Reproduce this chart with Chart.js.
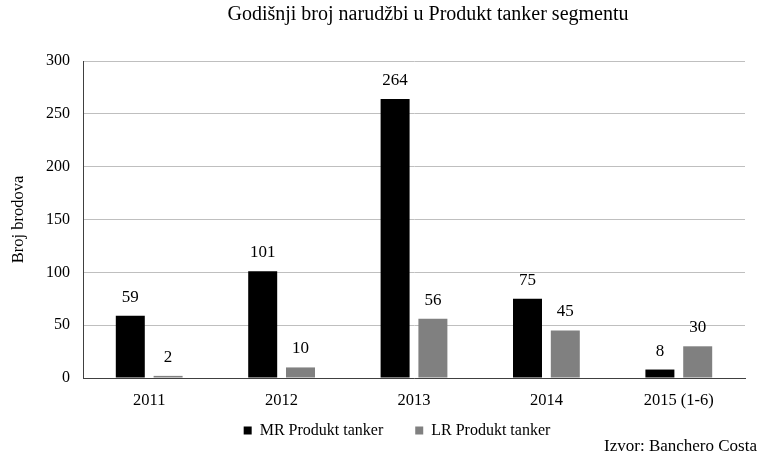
<!DOCTYPE html>
<html>
<head>
<meta charset="utf-8">
<script src="https://cdn.jsdelivr.net/npm/chart.js@4.4.1/dist/chart.umd.min.js"></script>
<style>
  html, body { margin: 0; padding: 0; background: #fff; }
  #wrap { width: 764px; height: 457px; }
</style>
</head>
<body>
<div id="wrap"><canvas id="ordersChart" width="764" height="457"></canvas></div>
<script>
// Yearly orders in the product tanker segment
const years = ['2011', '2012', '2013', '2014', '2015 (1-6)'];
const mrOrders = [59, 101, 264, 75, 8];
const lrOrders = [2, 10, 56, 45, 30];
const yTicks = [0, 50, 100, 150, 200, 250, 300];

const SERIF = '"Liberation Serif", "Times New Roman", serif';

// Re-centre a layout box (title / legend) horizontally
function centerBox(box, cx) {
    if (!box) return;
    const w = box.right - box.left;
    box.left = cx - w / 2;
    box.right = cx + w / 2;
}

// Value labels above each bar
const barLabels = {
    id: 'barLabels',
    afterDatasetsDraw(chart) {
        const ctx = chart.ctx;
        ctx.save();
        ctx.font = '17px ' + SERIF;
        ctx.fillStyle = '#000';
        ctx.textAlign = 'center';
        ctx.textBaseline = 'middle';
        chart.data.datasets.forEach((ds, i) => {
            chart.getDatasetMeta(i).data.forEach((bar, j) => {
                ctx.fillText(String(ds.data[j]), bar.x, bar.y - 18.5);
            });
        });
        ctx.restore();
    }
};

// Title and legend sit off-centre in the original; source note bottom right
const layoutTweaks = {
    id: 'layoutTweaks',
    afterLayout(chart) {
        centerBox(chart.titleBlock, 428);
        const lg = chart.legend;
        if (lg) {
            centerBox(lg, 397);
            // legend row centred at y ~430 (top + padding + half item height)
            lg.top = 430.5 - lg.options.labels.padding - 8;
            lg.bottom = lg.top + lg.height;
        }
    },
    afterDraw(chart) {
        const ctx = chart.ctx;
        ctx.save();
        ctx.font = '17px ' + SERIF;
        ctx.fillStyle = '#000';
        ctx.textAlign = 'right';
        ctx.textBaseline = 'middle';
        ctx.fillText('Izvor: Banchero Costa', 757, 447);
        ctx.restore();
    }
};

new Chart(document.getElementById('ordersChart'), {
    type: 'bar',
    data: {
        labels: years,
        datasets: [
            {
                label: 'MR Produkt tanker',
                data: mrOrders,
                backgroundColor: '#000000',
                borderWidth: 0,
                categoryPercentage: 0.571,
                barPercentage: 0.767
            },
            {
                label: 'LR Produkt tanker',
                data: lrOrders,
                backgroundColor: '#808080',
                borderWidth: 0,
                categoryPercentage: 0.571,
                barPercentage: 0.767
            }
        ]
    },
    options: {
        responsive: false,
        animation: false,
        events: [],
        layout: { padding: { left: 0, right: 19, top: 0, bottom: 0 } },
        plugins: {
            title: {
                display: true,
                text: 'Godišnji broj narudžbi u Produkt tanker segmentu',
                color: '#000',
                font: { family: SERIF, size: 20, weight: 'normal', lineHeight: 1.2 },
                padding: { top: 3, bottom: 34 }
            },
            legend: {
                position: 'bottom',
                maxHeight: 46,
                labels: {
                    boxWidth: 8,
                    boxHeight: 8,
                    padding: 32,
                    color: '#000',
                    font: { family: SERIF, size: 16 }
                }
            },
            tooltip: { enabled: false }
        },
        scales: {
            x: {
                grid: { display: false, drawTicks: false },
                border: { color: '#404040', width: 1 },
                ticks: {
                    color: '#000',
                    padding: 12.5,
                    font: { family: SERIF, size: 16.5 }
                },
                afterFit(scale) { scale.height = 33; }
            },
            y: {
                min: 0,
                max: 300,
                afterBuildTicks(scale) {
                    scale.ticks = yTicks.map(v => ({ value: v }));
                },
                grid: { color: '#bfbfbf', drawTicks: false },
                border: { color: '#404040', width: 1 },
                ticks: {
                    color: '#000',
                    padding: 13,
                    font: { family: SERIF, size: 16 }
                },
                title: {
                    display: true,
                    text: 'Broj brodova',
                    color: '#000',
                    font: { family: SERIF, size: 16.5 },
                    padding: { top: 9, bottom: 0 }
                },
                afterFit(scale) { scale.width = 83; }
            }
        }
    },
    plugins: [barLabels, layoutTweaks]
});
</script>
</body>
</html>
